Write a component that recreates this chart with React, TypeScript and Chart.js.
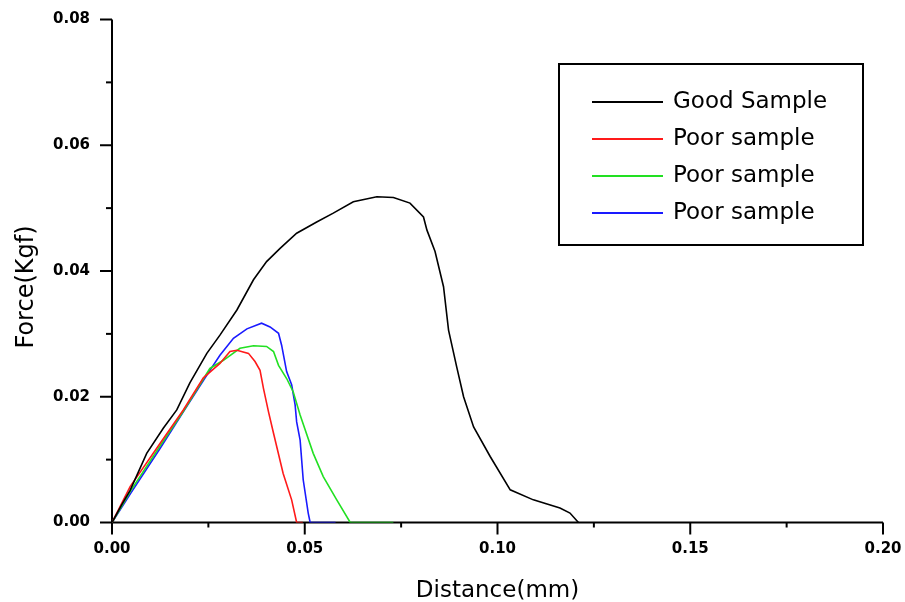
import { useEffect, useRef } from "react";
import { Chart, registerables } from "chart.js";

Chart.register(...registerables);

const FONT = "'DejaVu Sans', 'Liberation Sans', sans-serif";

// Good sample (black)
const goodDistance = [0, 0.0025, 0.0047, 0.009, 0.0133, 0.0168, 0.0202, 0.0246, 0.028, 0.0324, 0.0367, 0.0401, 0.0436, 0.0479, 0.0531, 0.0574, 0.0626, 0.0687, 0.073, 0.0773, 0.0808, 0.0817, 0.0838, 0.086, 0.0873, 0.0894, 0.0912, 0.0938, 0.0981, 0.1033, 0.1093, 0.1162, 0.1188, 0.121];
const goodForce = [0, 0.0028, 0.0051, 0.011, 0.015, 0.0179, 0.0222, 0.0269, 0.0298, 0.0338, 0.0386, 0.0415, 0.0436, 0.046, 0.0478, 0.0492, 0.051, 0.0518, 0.0517, 0.0508, 0.0486, 0.0465, 0.0431, 0.0375, 0.0306, 0.0248, 0.02, 0.0152, 0.0105, 0.0052, 0.0036, 0.0023, 0.0015, 0];

// Poor sample (red)
const redDistance = [0, 0.0047, 0.0125, 0.0185, 0.0237, 0.028, 0.0306, 0.0324, 0.0354, 0.0371, 0.0384, 0.0393, 0.0406, 0.0419, 0.0444, 0.0466, 0.0479, 0.0495];
const redForce = [0, 0.0057, 0.0126, 0.0179, 0.023, 0.0253, 0.0272, 0.0274, 0.0269, 0.0256, 0.0242, 0.0213, 0.0176, 0.0142, 0.0078, 0.0036, 0, 0];

// Poor sample (green)
const greenDistance = [0, 0.005, 0.0125, 0.0185, 0.0254, 0.0289, 0.0332, 0.0367, 0.0401, 0.0419, 0.0432, 0.0453, 0.047, 0.0488, 0.0522, 0.0548, 0.0583, 0.0618, 0.073];
const greenForce = [0, 0.0052, 0.0122, 0.0177, 0.0245, 0.0258, 0.0277, 0.0281, 0.028, 0.0272, 0.025, 0.0229, 0.0208, 0.0171, 0.011, 0.0073, 0.0036, 0, 0];

// Poor sample (blue)
const blueDistance = [0, 0.005, 0.0125, 0.0185, 0.0254, 0.028, 0.0315, 0.035, 0.0388, 0.041, 0.0432, 0.044, 0.0453, 0.0466, 0.0475, 0.0479, 0.0488, 0.0496, 0.0509, 0.0514, 0.058];
const blueForce = [0, 0.0048, 0.0118, 0.0176, 0.0242, 0.0266, 0.0293, 0.0308, 0.0317, 0.0311, 0.0301, 0.0282, 0.024, 0.0219, 0.0187, 0.016, 0.0131, 0.0068, 0.0015, 0, 0];

const seriesLabels = ["Good Sample", "Poor sample", "Poor sample", "Poor sample"];
const seriesColors = ["#000000", "#ff1a1a", "#22e022", "#1a1aff"];

const xTickValues = [0, 0.05, 0.1, 0.15, 0.2];
const yTickValues = [0, 0.02, 0.04, 0.06, 0.08];
const xMinorTickValues = [0.025, 0.075, 0.125, 0.175];
const yMinorTickValues = [0.01, 0.03, 0.05, 0.07];

const xTitle = "Distance(mm)";
const yTitle = "Force(Kgf)";

const toPoints = (xs: number[], ys: number[]) => xs.map((x, i) => ({ x, y: ys[i] }));

const framePlugin = {
  id: "frame",
  beforeDatasetsDraw(chart: any) {
    const { ctx, chartArea: a, scales } = chart;
    ctx.save();
    ctx.strokeStyle = "#000";
    ctx.lineWidth = 2;
    ctx.beginPath();
    ctx.moveTo(a.left, a.top);
    ctx.lineTo(a.left, a.bottom);
    ctx.lineTo(a.right, a.bottom);
    ctx.stroke();
    const drawX = (vals: number[], len: number) => {
      vals.forEach((v) => {
        const px = scales.x.getPixelForValue(v);
        ctx.beginPath();
        ctx.moveTo(px, a.bottom);
        ctx.lineTo(px, a.bottom + len);
        ctx.stroke();
      });
    };
    const drawY = (vals: number[], len: number) => {
      vals.forEach((v) => {
        const py = scales.y.getPixelForValue(v);
        ctx.beginPath();
        ctx.moveTo(a.left, py);
        ctx.lineTo(a.left - len, py);
        ctx.stroke();
      });
    };
    drawX(xTickValues, 12);
    drawX(xMinorTickValues, 5);
    drawY(yTickValues, 12);
    drawY(yMinorTickValues, 6);
    ctx.restore();
  },
  afterDraw(chart: any) {
    const { ctx, chartArea: a } = chart;
    ctx.save();
    // axis titles
    ctx.fillStyle = "#000";
    ctx.font = `23px ${FONT}`;
    ctx.textAlign = "center";
    ctx.textBaseline = "alphabetic";
    ctx.fillText(xTitle, (a.left + a.right) / 2, 597);
    ctx.save();
    ctx.translate(33, 287);
    ctx.rotate(-Math.PI / 2);
    ctx.font = `24px ${FONT}`;
    ctx.fillText(yTitle, 0, 0);
    ctx.restore();

    // legend box
    const boxW = 304;
    const boxH = 181;
    const boxL = a.right - 20 - boxW;
    const boxT = a.top + 44.5;
    ctx.strokeStyle = "#000";
    ctx.lineWidth = 2;
    ctx.strokeRect(boxL, boxT, boxW, boxH);
    ctx.font = `23px ${FONT}`;
    ctx.textAlign = "left";
    ctx.textBaseline = "middle";
    chart.data.datasets.forEach((ds: any, i: number) => {
      const y = boxT + 38 + i * 37;
      ctx.strokeStyle = ds.borderColor;
      ctx.lineWidth = 2;
      ctx.beginPath();
      ctx.moveTo(boxL + 33, y);
      ctx.lineTo(boxL + 104, y);
      ctx.stroke();
      ctx.fillStyle = "#000";
      ctx.fillText(ds.label, boxL + 114, y);
    });
    ctx.restore();
  },
};

export default function App() {
  const canvasRef = useRef<HTMLCanvasElement | null>(null);

  useEffect(() => {
    if (!canvasRef.current) return;
    const data = [
      toPoints(goodDistance, goodForce),
      toPoints(redDistance, redForce),
      toPoints(greenDistance, greenForce),
      toPoints(blueDistance, blueForce),
    ];
    const chart = new Chart(canvasRef.current, {
      type: "line",
      data: {
        datasets: data.map((pts, i) => ({
          label: seriesLabels[i],
          data: pts,
          borderColor: seriesColors[i],
          backgroundColor: seriesColors[i],
          borderWidth: 1.6,
          pointRadius: 0,
          tension: 0,
          fill: false,
        })),
      },
      options: {
        responsive: false,
        animation: false,
        devicePixelRatio: 1,
        layout: { padding: { left: 0, top: 19.5, right: 22, bottom: 0 } },
        plugins: {
          legend: { display: false },
          tooltip: { enabled: false },
          title: { display: false },
        },
        scales: {
          x: {
            type: "linear",
            min: 0,
            max: 0.2,
            grid: { display: false, drawTicks: false },
            border: { display: false },
            afterBuildTicks: (scale: any) => {
              scale.ticks = xTickValues.map((v) => ({ value: v }));
            },
            afterFit: (scale: any) => {
              scale.height = 79.5;
              scale.paddingLeft = 0;
              scale.paddingRight = 0;
              scale.paddingTop = 0;
              scale.paddingBottom = 0;
            },
            ticks: {
              padding: 18,
              color: "#000",
              maxRotation: 0,
              autoSkip: false,
              font: { family: FONT, size: 15, weight: "bold" },
              callback: (v: any) => Number(v).toFixed(2),
            },
          },
          y: {
            type: "linear",
            min: 0,
            max: 0.08,
            grid: { display: false, drawTicks: false },
            border: { display: false },
            afterBuildTicks: (scale: any) => {
              scale.ticks = yTickValues.map((v) => ({ value: v }));
            },
            afterFit: (scale: any) => {
              scale.width = 112;
              scale.paddingLeft = 0;
              scale.paddingRight = 0;
              scale.paddingTop = 0;
              scale.paddingBottom = 0;
            },
            ticks: {
              padding: 22,
              color: "#000",
              autoSkip: false,
              font: { family: FONT, size: 15, weight: "bold" },
              callback: (v: any) => Number(v).toFixed(2),
            },
          },
        },
      },
      plugins: [framePlugin],
    });
    return () => chart.destroy();
  }, []);

  return (
    <div style={{ position: "absolute", left: 0, top: 0, width: 905, height: 602, background: "#fff" }}>
      <canvas ref={canvasRef} width={905} height={602} style={{ display: "block" }} />
    </div>
  );
}
